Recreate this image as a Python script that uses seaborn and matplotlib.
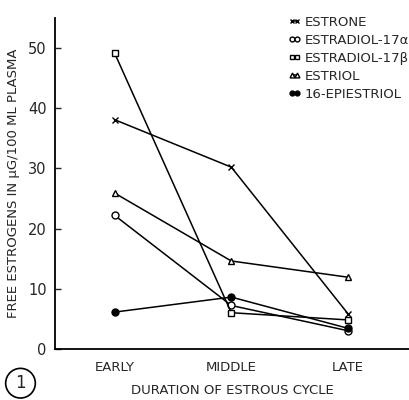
import matplotlib
matplotlib.use("Agg")
import matplotlib.pyplot as plt
import seaborn as sns
import pandas as pd

phases = ["EARLY", "MIDDLE", "LATE"]
estrone = [38.1, 30.2, 5.8]
estradiol_a = [22.2, 7.2, 3.0]
estradiol_b = [49.2, 6.0, 4.8]
estriol = [25.9, 14.6, 11.9]
epiestriol = [6.1, 8.6, 3.4]
names = ["ESTRONE", "ESTRADIOL-17\u03b1", "ESTRADIOL-17\u03b2", "ESTRIOL", "16-EPIESTRIOL"]
series = [estrone, estradiol_a, estradiol_b, estriol, epiestriol]

sns.set_style("ticks")
plt.rcParams['font.family'] = ['DejaVu Sans']

rows = []
for n, vals in zip(names, series):
    for i, v in enumerate(vals):
        rows.append({"compound": n, "pos": i, "value": v})
df = pd.DataFrame(rows)

styles = {
    "ESTRONE": dict(marker="x", ms=5, mfc="black", mew=1.0),
    "ESTRADIOL-17\u03b1": dict(marker="o", ms=5, mfc="white", mew=1.0),
    "ESTRADIOL-17\u03b2": dict(marker="s", ms=5, mfc="white", mew=1.0),
    "ESTRIOL": dict(marker="^", ms=5, mfc="white", mew=1.0),
    "16-EPIESTRIOL": dict(marker="o", ms=5, mfc="black", mew=1.0),
}

fig = plt.figure(figsize=(4.1, 4.0), dpi=100)
ax = fig.add_axes([0.134, 0.128, 0.866, 0.827])

handles = []
for n in names:
    sub = df[df.compound == n]
    st = styles[n]
    sns.lineplot(data=sub, x="pos", y="value", ax=ax, color="black", lw=1.1,
                 marker=st["marker"], markersize=st["ms"], markerfacecolor=st["mfc"],
                 markeredgecolor="black", markeredgewidth=st["mew"], label=n)
    handles.append(ax.lines[-1])

ax.set_xlim(-0.51, 2.53)
ax.set_ylim(0, 55)
ax.set_yticks([0, 10, 20, 30, 40, 50])
ax.set_xticks([0, 1, 2])
ax.set_xticklabels(phases, fontsize=9.5)
ax.tick_params(axis="y", direction="in", length=4, width=1, labelsize=10.5, pad=6)
ax.tick_params(axis="x", length=0, pad=9)
for s in ["top", "right"]:
    ax.spines[s].set_visible(False)
for s in ["left", "bottom"]:
    ax.spines[s].set_linewidth(1.3)
    ax.spines[s].set_color("black")

ax.set_xlabel("DURATION OF ESTROUS CYCLE", fontsize=9.5, labelpad=7)
ax.set_ylabel("FREE ESTROGENS IN \u03bcG/100 ML PLASMA", fontsize=9.5, labelpad=6)

leg = ax.legend(handles=handles, labels=names, loc="upper right", bbox_to_anchor=(1.02, 1.03),
                frameon=False, numpoints=2, handlelength=1.0, handletextpad=0.3,
                fontsize=9.5, labelspacing=0.38, markerscale=0.7, borderaxespad=0.2)

fig.text(0.05, 0.042, "1", fontsize=12, ha="center", va="center",
         bbox=dict(boxstyle="circle,pad=0.35", fc="white", ec="black", lw=1.2))

fig.savefig("out.png", dpi=100, facecolor="white")
